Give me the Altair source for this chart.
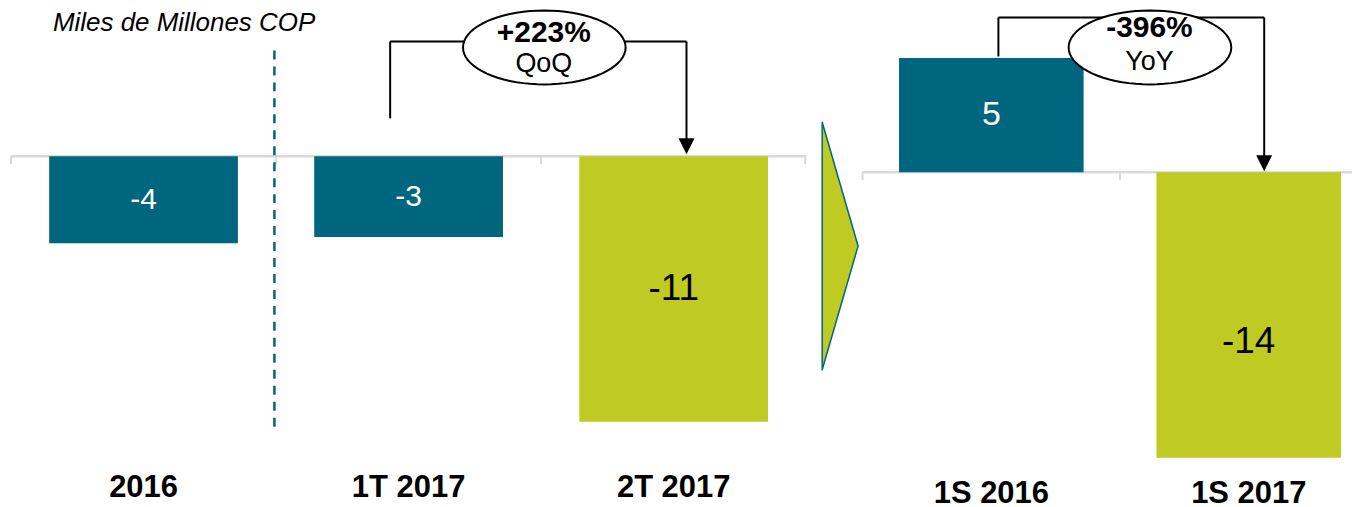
import math
import altair as alt
import pandas as pd

# ---------------- data ----------------
cats_left = ["2016", "1T 2017", "2T 2017"]
vals_left = [-3.6, -3.35, -11.0]
labels_left = ["-4", "-3", "-11"]
groups_left = ["base", "base", "actual"]

cats_right = ["1S 2016", "1S 2017"]
vals_right = [5.6, -14.0]
labels_right = ["5", "-14"]
groups_right = ["base", "actual"]

unit_title = "Miles de Millones COP"
qoq_pct, qoq_txt = "+223%", "QoQ"
yoy_pct, yoy_txt = "-396%", "YoY"

# ---------------- style ----------------
TEAL = "#00657F"
GREEN = "#BFCB22"
GRID = "#D9D9D9"
FONT = "Liberation Sans"
W1, W2, H = 797, 546, 456

df_l = pd.DataFrame({"cat": cats_left, "val": vals_left, "lab": labels_left, "grp": groups_left})
df_r = pd.DataFrame({"cat": cats_right, "val": vals_right, "lab": labels_right, "grp": groups_right})
one = pd.DataFrame({"k": [0]})


def ellipse_path(ratio, n=72):
    pts = []
    for i in range(n):
        a = 2 * math.pi * i / n
        pts.append(f"{math.cos(a):.4f},{ratio * math.sin(a):.4f}")
    return "M" + " L".join(pts) + " Z"


ELLIPSE = ellipse_path(0.454)
HEAD = "M-1,-1 L1,-1 L0,1 Z"
CHEVRON = "M-0.145,-1 L0.145,0 L-0.145,1 Z"


def xenc(cats, p_i, p_o, align, pad):
    return alt.X(
        "cat:N", sort=cats,
        scale=alt.Scale(paddingInner=p_i, paddingOuter=p_o, align=align),
        axis=alt.Axis(title=None, domain=False, ticks=False, labelAngle=0,
                      labelFont=FONT, labelFontSize=31, labelFontWeight="bold",
                      labelColor="black", labelBaseline="alphabetic", labelPadding=pad),
    )


def rule(x, x2, y, y2, color="black", sw=2, dash=None):
    kw = dict(color=color, strokeWidth=sw)
    if dash:
        kw["strokeDash"] = dash
    return alt.Chart(one).mark_rule(**kw).encode(
        x=alt.value(x), x2=alt.value(x2), y=alt.value(y), y2=alt.value(y2))


def pt(x, y, shape, size, fill, stroke=None, sw=0):
    props = dict(shape=shape, size=size, filled=True, fill=fill, opacity=1, strokeWidth=sw,
                 strokeJoin="round")
    if stroke:
        props["stroke"] = stroke
    return alt.Chart(one).mark_point(**props).encode(x=alt.value(x), y=alt.value(y))


def txt(x, y, t, size, bold=False, italic=False, align="center"):
    kw = dict(text=t, font=FONT, fontSize=size, fontWeight="bold" if bold else "normal",
              align=align, baseline="alphabetic", color="black")
    if italic:
        kw["fontStyle"] = "italic"
    return alt.Chart(one).mark_text(**kw).encode(x=alt.value(x), y=alt.value(y))


def panel(df, cats, p_i, p_o, align, pad, domain, sizes, dys, zx):
    x = xenc(cats, p_i, p_o, align, pad)
    y = alt.Y("val:Q", scale=alt.Scale(domain=domain, nice=False, zero=False), axis=None)
    ymid = alt.Y("mid:Q", axis=None)
    base = alt.Chart(df).transform_calculate(mid="datum.val / 2", z="0")
    zero_line = base.mark_rule(color=GRID, strokeWidth=2).encode(
        x=alt.value(zx[0]), x2=alt.value(zx[1]), y=alt.Y("z:Q", axis=None))
    bars_b = base.transform_filter(alt.datum.grp == "base").mark_bar(color=TEAL).encode(x=x, y=y)
    bars_a = base.transform_filter(alt.datum.grp == "actual").mark_bar(color=GREEN).encode(x=x, y=y)
    lab_b = base.transform_filter(alt.datum.grp == "base").mark_text(
        font=FONT, fontSize=sizes[0], color="white", baseline="middle", dy=dys[0]).encode(x=x, y=ymid, text="lab:N")
    lab_a = base.transform_filter(alt.datum.grp == "actual").mark_text(
        font=FONT, fontSize=sizes[1], color="black", baseline="middle", dy=dys[1]).encode(x=x, y=ymid, text="lab:N")
    return zero_line, bars_b, bars_a, lab_b, lab_a


# ---------------- left panel ----------------
STEP_L = W1 / 3.0
zero_l, bb_l, ba_l, lb_l, la_l = panel(df_l, cats_left, 0.288, 0.144, 0.5, 33,
                                       [-12.727, 6.116], (30, 37), (0, 0), (0, W1))
left = alt.layer(
    zero_l,
    rule(0, 0, 148, 156, GRID), rule(STEP_L, STEP_L, 148, 156, GRID),
    rule(2 * STEP_L, 2 * STEP_L, 148, 156, GRID), rule(W1 - 1, W1 - 1, 148, 156, GRID),
    rule(264, 264, 42, 420, TEAL, 2.5, [9, 7]),
    bb_l, ba_l, lb_l, la_l,
    rule(380, 380, 33, 110), rule(380, 677, 33, 33), rule(677, 677, 33, 132),
    pt(677, 138, HEAD, 256, "black"),
    pt(534.5, 39, ELLIPSE, 163 ** 2, "white", "black", 2),
    txt(534, 34, qoq_pct, 30, True), txt(534, 64, qoq_txt, 27),
    txt(42, 22, unit_title, 26, italic=True, align="left"),
).properties(width=W1, height=H)

# ---------------- right panel ----------------
zero_r, bb_r, ba_r, lb_r, la_r = panel(df_r, cats_right, 0.283, 0.1997, 0.893, 39,
                                       [-14.29, 8.03], (34, 37), (0, 27), (55.5, W2))
right = alt.layer(
    zero_r,
    rule(55.5, 55.5, 164, 172, GRID), rule(313.5, 313.5, 164, 172, GRID),
    bb_r, ba_r, lb_r, la_r,
    pt(33, 238, CHEVRON, 248 ** 2, GREEN, TEAL, 1.5),
    rule(191.6, 191.6, 9, 48), rule(191.6, 458, 9, 9), rule(458, 458, 9, 149),
    pt(458, 155, HEAD, 256, "black"),
    pt(343.5, 39, ELLIPSE, 163 ** 2, "white", "black", 2),
    txt(343, 29, yoy_pct, 30, True), txt(343, 62, yoy_txt, 27),
).properties(width=W2, height=H)

chart = alt.hconcat(left, right, spacing=0).properties(
    padding={"left": 2, "top": 0, "right": 0, "bottom": 0}
).configure_view(stroke=None)

chart.save("out.html", embed_options={"renderer": "svg", "actions": False})
